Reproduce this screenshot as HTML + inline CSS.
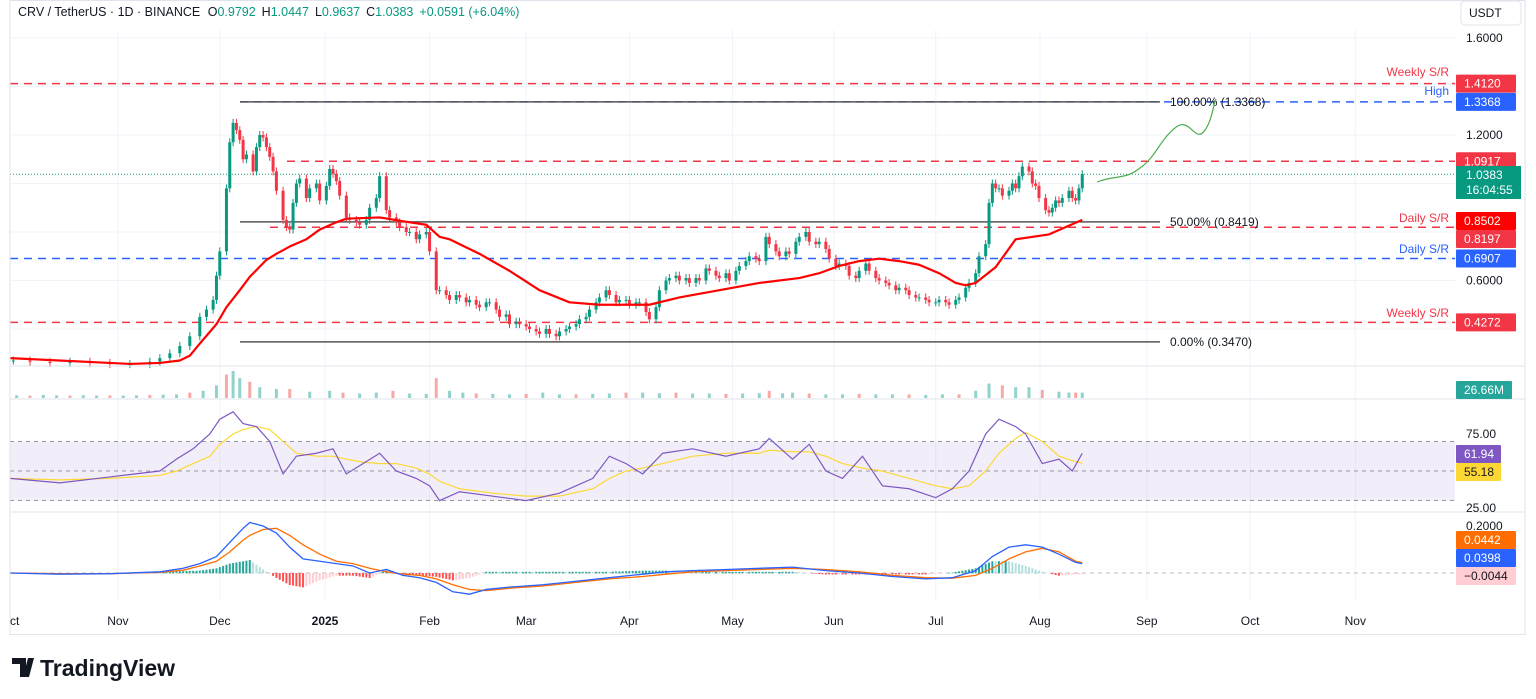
<!DOCTYPE html>
<html><head><meta charset="utf-8">
<style>
html,body{margin:0;padding:0;background:#fff;}
svg{display:block;font-family:"Liberation Sans",sans-serif;}
</style></head>
<body>
<svg id="c" width="1536" height="699" viewBox="0 0 1536 699" xmlns="http://www.w3.org/2000/svg">
<g id="grid"></g>
<g id="levels"></g>
<g id="vol"></g>
<g id="candles"></g>
<g id="rsi"></g>
<g id="macd"></g>
<g id="axis"></g>
<text x="18" y="16" font-size="12.5" fill="#131722">CRV / TetherUS · 1D · BINANCE <tspan dx="4">O</tspan><tspan fill="#089981">0.9792</tspan><tspan dx="6">H</tspan><tspan fill="#089981">1.0447</tspan><tspan dx="6">L</tspan><tspan fill="#089981">0.9637</tspan><tspan dx="6">C</tspan><tspan fill="#089981">1.0383</tspan><tspan dx="6" fill="#089981">+0.0591 (+6.04%)</tspan></text>
<rect x="1461" y="1" width="60" height="24" rx="4" fill="#fff" stroke="#e0e3eb"/>
<text x="1469" y="17" font-size="12" fill="#131722">USDT</text>
<g>
<path d="M12 658h14v19h-6v-13h-8z M28 658h6l-5 19h-6z" fill="#131722"/>
<text x="40" y="676" font-size="23" font-weight="bold" fill="#131722">TradingView</text>
</g>
</svg>
<script>
// ---------- data ----------
const priceDays=[1,6,12,18,24,30,36,42,45,48,51,54,57,59,61,62,63,65,66,67,68,69,70,71,73,74,75,76,77,78,79,80,82,83,84,85,86,87,89,90,92,93,95,96,97,98,99,101,102,104,105,107,108,110,111,113,114,116,117,119,120,122,123,125,126,128,129,131,132,134,135,137,138,140,141,143,144,146,147,149,150,152,153,155,156,158,159,161,162,164,165,167,168,170,171,173,174,176,177,179,180,182,183,185,186,188,189,191,192,194,195,197,198,200,201,203,204,206,207,209,210,212,213,215,216,218,219,221,222,224,225,227,228,230,231,233,234,236,237,239,240,242,243,245,246,248,249,251,252,254,255,257,258,260,261,263,264,266,267,269,270,272,273,275,276,278,279,281,282,284,285,287,288,290,291,293,294,295,296,297,298,300,301,302,303,304,306,307,308,309,311,312,313,314,315,316,318,319,320,321,322];
const priceClose=[0.27,0.265,0.26,0.265,0.26,0.255,0.255,0.265,0.28,0.30,0.33,0.37,0.45,0.48,0.52,0.62,0.72,0.98,1.17,1.25,1.22,1.18,1.10,1.12,1.05,1.15,1.2,1.19,1.15,1.11,1.05,0.97,0.85,0.82,0.81,0.92,1.0,1.02,0.94,0.98,1.0,0.93,0.99,1.06,1.04,1.01,0.95,0.86,0.85,0.84,0.83,0.85,0.90,0.94,1.03,0.89,0.86,0.84,0.82,0.80,0.80,0.77,0.79,0.80,0.72,0.56,0.56,0.54,0.52,0.54,0.53,0.51,0.52,0.50,0.49,0.51,0.51,0.48,0.45,0.46,0.42,0.43,0.42,0.41,0.40,0.39,0.38,0.40,0.38,0.37,0.39,0.40,0.41,0.42,0.44,0.45,0.48,0.51,0.53,0.56,0.54,0.51,0.52,0.52,0.50,0.51,0.51,0.47,0.44,0.49,0.56,0.60,0.61,0.62,0.60,0.61,0.59,0.61,0.60,0.65,0.64,0.62,0.61,0.63,0.60,0.64,0.66,0.68,0.70,0.69,0.68,0.78,0.75,0.72,0.70,0.72,0.71,0.76,0.78,0.80,0.76,0.75,0.76,0.73,0.69,0.66,0.67,0.66,0.62,0.61,0.64,0.67,0.64,0.61,0.60,0.59,0.58,0.56,0.57,0.56,0.54,0.53,0.53,0.52,0.51,0.51,0.52,0.51,0.50,0.52,0.53,0.57,0.59,0.63,0.70,0.75,0.92,1.0,0.98,0.98,0.95,0.97,1.0,0.98,1.03,1.07,1.05,1.0,0.99,0.94,0.89,0.88,0.90,0.93,0.92,0.94,0.97,0.94,0.93,0.98,1.0383];
const maDays=[0,36,45,51,54,57,62,65,69,72,77,80,84,89,93,98,101,111,120,125,129,132,141,150,159,168,177,186,192,201,213,225,237,243,249,255,261,267,273,279,284,287,290,296,302,312,322];
const maVals=[0.28,0.256,0.26,0.27,0.29,0.34,0.42,0.49,0.56,0.615,0.685,0.71,0.74,0.77,0.81,0.84,0.855,0.86,0.84,0.83,0.78,0.77,0.71,0.64,0.56,0.51,0.50,0.50,0.50,0.53,0.56,0.59,0.61,0.63,0.66,0.68,0.69,0.68,0.665,0.63,0.59,0.58,0.59,0.655,0.77,0.79,0.8502];
const volDays=[2,6,10,14,18,22,26,30,34,38,42,46,50,54,58,62,65,67,69,72,75,80,84,90,96,100,105,110,115,120,125,128,132,136,140,145,150,155,160,165,170,175,180,185,190,195,200,205,210,215,220,225,228,232,235,240,245,250,255,260,265,270,275,280,285,290,294,298,302,306,310,315,318,320,322];
const volVals=[9,8,10,9,8,9,8,9,8,9,10,11,12,18,24,42,78,90,66,54,36,30,30,21,24,18,15,18,24,15,14,66,24,18,15,14,12,14,18,12,12,14,15,18,18,16,18,15,15,14,15,16,24,16,18,15,12,12,14,12,12,12,10,12,12,24,48,42,36,36,27,21,18,18,18];
const rsiDays=[0,15,30,45,50,55,60,63,67,70,74,78,82,86,92,97,101,106,111,116,122,126,129,135,145,155,165,175,180,185,190,196,205,215,225,228,235,240,245,250,256,262,270,278,283,288,293,297,302,305,310,315,319,322];
const rsiVals=[45,42,46,50,58,65,75,85,90,82,80,70,48,60,62,65,48,55,62,50,45,40,30,36,33,30,35,45,60,55,48,62,65,60,65,72,58,68,50,45,60,40,38,32,38,50,75,85,80,75,55,58,50,61.94];
const rsiSig=[45,44,45,47,50,55,60,68,75,78,80,78,70,62,60,60,58,56,55,55,52,48,43,38,35,33,33,38,45,50,52,55,60,62,62,64,63,63,60,55,52,50,45,40,38,40,50,62,72,76,70,60,57,55.18];
const macdDays=[0,15,30,45,52,57,62,66,70,72,76,80,84,88,93,98,103,108,113,118,123,128,133,138,143,150,160,170,180,190,197,205,215,225,235,245,255,265,275,283,290,295,300,305,310,315,320,322];
const macdVals=[0,-0.005,-0.003,0.005,0.02,0.04,0.07,0.13,0.19,0.215,0.2,0.17,0.11,0.06,0.05,0.04,0.03,0,0.015,-0.01,-0.02,-0.04,-0.08,-0.09,-0.07,-0.06,-0.05,-0.035,-0.02,-0.005,0.005,0.01,0.015,0.02,0.025,0.01,0,-0.015,-0.025,-0.02,0.01,0.07,0.11,0.12,0.11,0.08,0.045,0.0398];
const macdSig=[0,-0.003,-0.003,0.003,0.012,0.03,0.05,0.09,0.14,0.16,0.185,0.19,0.16,0.12,0.08,0.05,0.04,0.02,0.005,-0.005,-0.01,-0.025,-0.05,-0.07,-0.075,-0.065,-0.055,-0.04,-0.025,-0.015,-0.005,0.005,0.01,0.015,0.02,0.015,0.005,-0.01,-0.02,-0.022,-0.01,0.02,0.06,0.09,0.105,0.09,0.05,0.0442];
const timeLabels=["ct","Nov","Dec","2025","Feb","Mar","Apr","May","Jun","Jul","Aug","Sep","Oct","Nov"];
const timeDays=[0,32.4,63,94.6,126,155,186,217,247.4,278,309.3,341.4,372.4,404];
const priceTicks=[1.6,1.2,0.6];
// ---------- scales ----------
const NS="http://www.w3.org/2000/svg";
const X=d=>10+d*3.33;
const Y=p=>38+(1.6-p)*242.5;
const RY=v=>434+(75-v)*1.48;
const MY=v=>573-v*235;
function mk(tag,attrs,parent){const e=document.createElementNS(NS,tag);for(const k in attrs)e.setAttribute(k,attrs[k]);parent.appendChild(e);return e;}
function interp(ds,vs,d){for(let i=1;i<ds.length;i++){if(d<=ds[i]){const t=(d-ds[i-1])/(ds[i]-ds[i-1]);return vs[i-1]+t*(vs[i]-vs[i-1]);}}return vs[vs.length-1];}
const G=id=>document.getElementById(id);
const grid=G('grid'),lv=G('levels'),cg=G('candles'),vg=G('vol'),rg=G('rsi'),mg=G('macd'),ax=G('axis');
for(const d of timeDays){const l=mk('line',{x1:X(d),x2:X(d),y1:30,y2:600,stroke:'#f0f3fa'},grid);

}
for(let p=0.4;p<1.7;p+=0.2){const l=mk('line',{x1:10,x2:1455,y1:Y(p),y2:Y(p),stroke:'#f0f3fa'},grid);

}
for(const y of [366,399,512]){const l=mk('line',{x1:10,x2:1525,y1:y,y2:y,stroke:'#e0e3eb'},ax);

}
{const f=mk('rect',{x:10,y:0.5,width:1515,height:634,fill:'none',stroke:'#e0e3eb'},ax);

}
function txt(x,y,s,attrs,parent,name){const t=mk('text',Object.assign({x:x,y:y,'font-size':12},attrs),parent);t.textContent=s;

return t;}
function hline(p,x1,col,dash,w,name){const l=mk('line',{x1:x1,x2:1455,y1:Y(p),y2:Y(p),stroke:col,'stroke-width':w||1.5,'stroke-dasharray':dash||''},lv);

}
hline(1.4120,10,'#f23645','8 6',1.5,'weekly-sr-top');
hline(1.3368,240,'#2962ff','8 6',1.5,'high-line');
hline(1.0917,287,'#f23645','8 6',1.5,'resistance-1-0917');
hline(0.8197,270,'#f23645','8 6',1.5,'daily-sr-red');
hline(0.6907,10,'#2962ff','8 6',1.5,'daily-sr-blue');
hline(0.4272,10,'#f23645','8 6',1.5,'weekly-sr-bottom');
for(const [p,lab] of [[1.3368,'100.00% (1.3368)'],[0.8419,'50.00% (0.8419)'],[0.347,'0.00% (0.3470)']]){
const l=mk('line',{x1:240,x2:1160,y1:Y(p),y2:Y(p),stroke:'#555','stroke-width':1.5},lv);


txt(1170,Y(p)+4,lab,{fill:'#131722'},lv,'fib-label');}
{const l=mk('line',{x1:10,x2:1455,y1:Y(1.0383),y2:Y(1.0383),stroke:'#089981','stroke-dasharray':'1 2'},lv);

}
txt(1449,76,'Weekly S/R',{fill:'#f23645','text-anchor':'end'},lv,'weekly-sr-text');
txt(1449,95,'High',{fill:'#2962ff','text-anchor':'end'},lv,'high-text');
txt(1449,222,'Daily S/R',{fill:'#f23645','text-anchor':'end'},lv,'daily-sr-text');
txt(1449,253,'Daily S/R',{fill:'#2962ff','text-anchor':'end'},lv,'daily-sr-text-blue');
txt(1449,317,'Weekly S/R',{fill:'#f23645','text-anchor':'end'},lv,'weekly-sr-text-bottom');
{const pth=mk('path',{d:'M1097 182 C1115 175,1125 180,1140 168 C1155 158,1160 140,1175 128 C1190 115,1195 145,1205 130 C1212 120,1212 110,1216 99',fill:'none',stroke:'#4caf50','stroke-width':1.2},lv);

}
for(let i=0;i<priceDays.length;i++){
const c=priceClose[i],o=i?priceClose[i-1]:c;const up=c>=o;const col=up?'#089981':'#f23645';
const x=X(priceDays[i]);const y1=Y(Math.max(o,c)),y2=Y(Math.min(o,c));
const w=mk('line',{x1:x,x2:x,y1:y1-4,y2:y2+4,stroke:col,'stroke-width':1},cg);


const r=mk('rect',{x:x-1.5,y:y1,width:3,height:Math.max(1,y2-y1),fill:col},cg);

}
{const pts=maDays.map((d,i)=>X(d)+','+Y(maVals[i])).join(' ');
const l=mk('polyline',{points:pts,fill:'none',stroke:'#ff0000','stroke-width':2.2,'stroke-linejoin':'round'},cg);

}
for(let i=0;i<volDays.length;i++){const h=volVals[i]/3.33;
const r=mk('rect',{x:X(volDays[i])-1.5,y:398-h,width:3,height:h,fill:(i%3==1)?'#f7a9a7':'#92d2cc'},vg);

}
{const r=mk('rect',{x:10,y:RY(70),width:1445,height:RY(30)-RY(70),fill:'#7e57c2','fill-opacity':0.1},rg);

}
for(const v of [70,50,30]){const l=mk('line',{x1:10,x2:1455,y1:RY(v),y2:RY(v),stroke:'#787b86','stroke-dasharray':'4 4','stroke-width':0.8},rg);

}
{const l=mk('polyline',{points:rsiDays.map((d,i)=>X(d)+','+RY(rsiSig[i])).join(' '),fill:'none',stroke:'#fdd835','stroke-width':1.2},rg);

}
{const l=mk('polyline',{points:rsiDays.map((d,i)=>X(d)+','+RY(rsiVals[i])).join(' '),fill:'none',stroke:'#7e57c2','stroke-width':1.2},rg);

}
{const l=mk('line',{x1:10,x2:1455,y1:MY(0),y2:MY(0),stroke:'#787b86','stroke-dasharray':'4 4','stroke-width':0.6},mg);

}
let prevH=0;
for(let d=0;d<=322;d++){const h=interp(macdDays,macdVals,d)-interp(macdDays,macdSig,d);const y0=MY(0),y1=MY(h);
const grow=Math.abs(h)>=Math.abs(prevH);
const col=h>=0?(grow?'#26a69a':'#b2dfdb'):(grow?'#ff5252':'#ffcdd2');prevH=h;
const r=mk('rect',{x:X(d)-1,y:Math.min(y0,y1),width:2,height:Math.abs(y1-y0)+0.3,fill:col},mg);

}
{const l=mk('polyline',{points:macdDays.map((d,i)=>X(d)+','+MY(macdSig[i])).join(' '),fill:'none',stroke:'#ff6d00','stroke-width':1.3},mg);

}
{const l=mk('polyline',{points:macdDays.map((d,i)=>X(d)+','+MY(macdVals[i])).join(' '),fill:'none',stroke:'#2962ff','stroke-width':1.3},mg);

}
timeLabels.forEach((s,i)=>{txt(X(timeDays[i]),625,s,{fill:'#131722','text-anchor':i?'middle':'start','font-weight':s==='2025'?'bold':'normal'},ax,'time-label');});
for(const p of priceTicks)txt(1466,Y(p)+4,p.toFixed(4),{fill:'#131722'},ax,'price-tick');
txt(1466,438,'75.00',{fill:'#131722'},ax,'rsi-tick');
txt(1466,512,'25.00',{fill:'#131722'},ax,'rsi-tick');
txt(1466,530,'0.2000',{fill:'#131722'},ax,'macd-tick');
function badge(y,h,s,bg,fg,name,w){const r=mk('rect',{x:1456,y:y,width:w||60,height:h,fill:bg,rx:1},ax);


txt(1464,y+h/2+4,s,{fill:fg},ax,name+'-text');}
badge(Y(1.4120)-9,18,'1.4120','#f23645','#fff','weekly-sr-price');
badge(Y(1.3368)-9,18,'1.3368','#2962ff','#fff','high-price');
badge(Y(1.0917)-9,18,'1.0917','#f23645','#fff','res-price');
{const r=mk('rect',{x:1456,y:166,width:65,height:33,fill:'#089981'},ax);


txt(1466,179,'1.0383',{fill:'#fff'},ax,'last-price');
txt(1466,194,'16:04:55',{fill:'#fff'},ax,'countdown');}
badge(212,18,'0.8502','#ff0000','#fff','ma-price');
badge(230,18,'0.8197','#f23645','#fff','daily-sr-price');
badge(Y(0.6907)-9,18,'0.6907','#2962ff','#fff','daily-sr-blue-price');
badge(Y(0.4272)-9,18,'0.4272','#f23645','#fff','weekly-bottom-price');
badge(381,18,'26.66M','#26a69a','#fff','volume-value',56);
badge(445,18,'61.94','#7e57c2','#fff','rsi-value',45);
badge(463,18,'55.18','#fdd835','#131722','rsi-signal-value',45);
badge(531,18,'0.0442','#ff6d00','#fff','macd-signal-value');
badge(549,18,'0.0398','#2962ff','#fff','macd-value');
badge(567,18,'\u22120.0044','#ffcdd2','#131722','macd-hist-value',60);
</script>
</body></html>
